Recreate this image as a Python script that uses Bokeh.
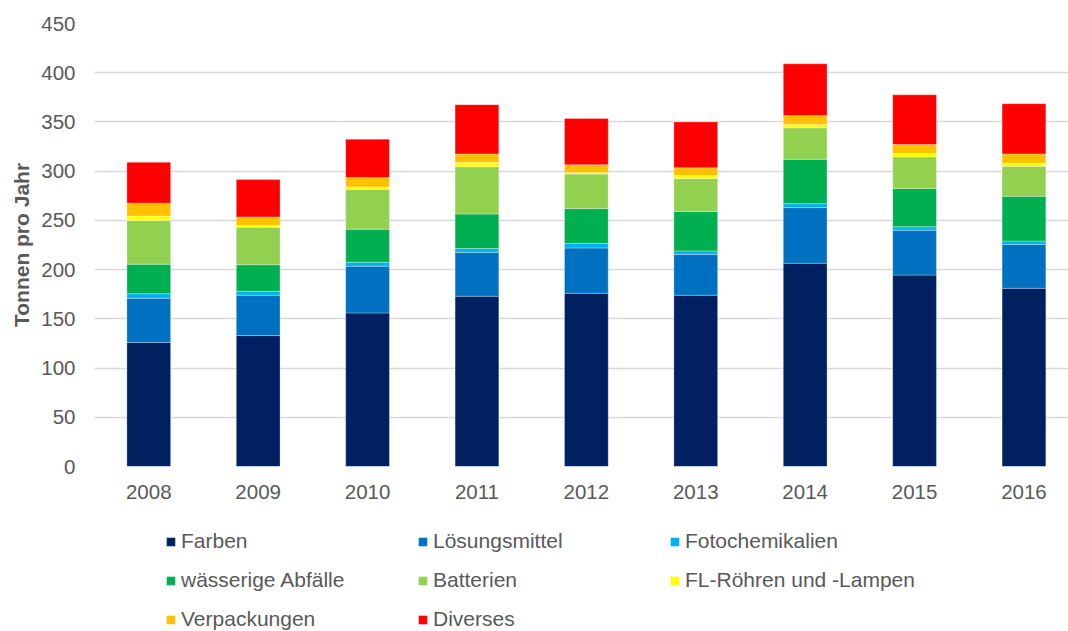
from bokeh.plotting import figure
from bokeh.layouts import column
from bokeh.models import ColumnDataSource, Legend, LegendItem, Range1d, FixedTicker
from bokeh.embed import file_html
from bokeh.resources import INLINE

years = ["2008", "2009", "2010", "2011", "2012", "2013", "2014", "2015", "2016"]
farben = [126, 133, 156, 173, 176, 174, 206.5, 194.5, 181]
loesungsmittel = [45, 41, 47.5, 44.5, 46, 41.5, 56.5, 45.5, 44.5]
fotochemikalien = [4.5, 4, 4, 4, 4.5, 3.5, 4, 3.5, 3.5]
waesserige = [30, 27, 33.5, 35, 35.5, 40, 45, 39, 45.5]
batterien = [44.5, 38, 40.5, 48, 35, 33.5, 32, 32, 30.5]
fl_roehren = [4.5, 2, 2.5, 4.5, 1.5, 3, 3.5, 3.5, 3]
verpackungen = [13, 8.5, 9.5, 8.5, 8, 8, 9, 9, 9.5]
diverses = [41.5, 38, 39, 50, 47, 46.5, 52.5, 50.5, 51]

series = ["Farben", "Lösungsmittel", "Fotochemikalien", "wässerige Abfälle",
          "Batterien", "FL-Röhren und -Lampen", "Verpackungen", "Diverses"]
colors = ["#002060", "#0070C0", "#00B0F0", "#00B050", "#92D050", "#FFFF00", "#FFC000", "#FF0000"]
values = [farben, loesungsmittel, fotochemikalien, waesserige, batterien, fl_roehren, verpackungen, diverses]

keys = ["s%d" % i for i in range(len(series))]
data = {"x": list(range(len(years)))}
for k, v in zip(keys, values):
    data[k] = v
src = ColumnDataSource(data)

FONT = "Liberation Sans"
GREY = "#595959"

H_TOP = 510
p = figure(width=1068, height=H_TOP, x_range=Range1d(-0.496, 8.407), y_range=Range1d(0, 450),
           output_backend="svg", toolbar_location=None,
           min_border_left=94, min_border_right=0, min_border_top=23,
           min_border_bottom=H_TOP - 466)
p.outline_line_color = None
p.background_fill_color = "white"
p.border_fill_color = "white"

rs = p.vbar_stack(keys, x="x", width=0.4, color=colors, source=src,
                  line_color="white", line_alpha=0.5, line_width=0.6)

p.xgrid.grid_line_color = None
p.ygrid.grid_line_color = "#D9D9D9"
p.ygrid.grid_line_width = 1.3
p.ygrid.ticker = FixedTicker(ticks=list(range(0, 451, 50)))

p.yaxis.ticker = FixedTicker(ticks=list(range(0, 451, 50)))
p.yaxis.axis_line_color = None
p.yaxis.major_tick_line_color = None
p.yaxis.minor_tick_line_color = None
p.yaxis.major_tick_out = 0
p.yaxis.major_label_standoff = 19
p.yaxis.major_label_text_font = FONT
p.yaxis.major_label_text_font_size = "20.5px"
p.yaxis.major_label_text_color = GREY
p.yaxis.axis_label = "Tonnen pro Jahr"
p.yaxis.axis_label_text_font = FONT
p.yaxis.axis_label_text_font_size = "21px"
p.yaxis.axis_label_text_font_style = "bold"
p.yaxis.axis_label_text_color = GREY
p.yaxis.axis_label_standoff = 5

p.xaxis.ticker = FixedTicker(ticks=list(range(len(years))))
p.xaxis.major_label_overrides = {i: y for i, y in enumerate(years)}
p.xaxis.axis_line_color = None
p.xaxis.major_tick_line_color = None
p.xaxis.minor_tick_line_color = None
p.xaxis.major_tick_out = 0
p.xaxis.major_label_standoff = 18
p.xaxis.major_label_text_font = FONT
p.xaxis.major_label_text_font_size = "20.5px"
p.xaxis.major_label_text_color = GREY

# legend strip below the chart; swatches come from stand-in renderers whose
# single zero-height bar lies outside the strip's ranges, so nothing is drawn
H_LEG = 631 - H_TOP
stub = {"x": [-10]}
for k in keys:
    stub[k] = [0]
stub_src = ColumnDataSource(stub)
q = figure(width=1068, height=H_LEG, x_range=Range1d(5, 6), y_range=Range1d(5, 6),
           output_backend="svg", toolbar_location=None, x_axis_type=None, y_axis_type=None,
           min_border_left=94, min_border_right=0, min_border_top=0, min_border_bottom=0)
q.outline_line_color = None
q.xgrid.visible = False
q.ygrid.visible = False
qs = q.vbar_stack(keys, x="x", width=0.4, color=colors, source=stub_src,
                  line_color="white", line_alpha=0.5, line_width=0.6)

items = [LegendItem(label=s, renderers=[r]) for s, r in zip(series, qs)]
row_h, row_gap = 24, 15
leg_h = 3 * row_h + 2 * row_gap
leg_top = 529 - H_TOP
legend = Legend(items=items, orientation="horizontal", ncols=3,
                location=(165 - 94, H_LEG - leg_top - leg_h), padding=0, margin=0, spacing=row_gap,
                glyph_width=11, glyph_height=11, label_standoff=5,
                label_width=221, label_height=row_h,
                label_text_font=FONT, label_text_font_size="21px", label_text_color=GREY,
                background_fill_alpha=0, border_line_color=None)
q.add_layout(legend, "center")

layout = column(p, q, spacing=0)
open("out.html", "w").write(file_html(layout, INLINE))
